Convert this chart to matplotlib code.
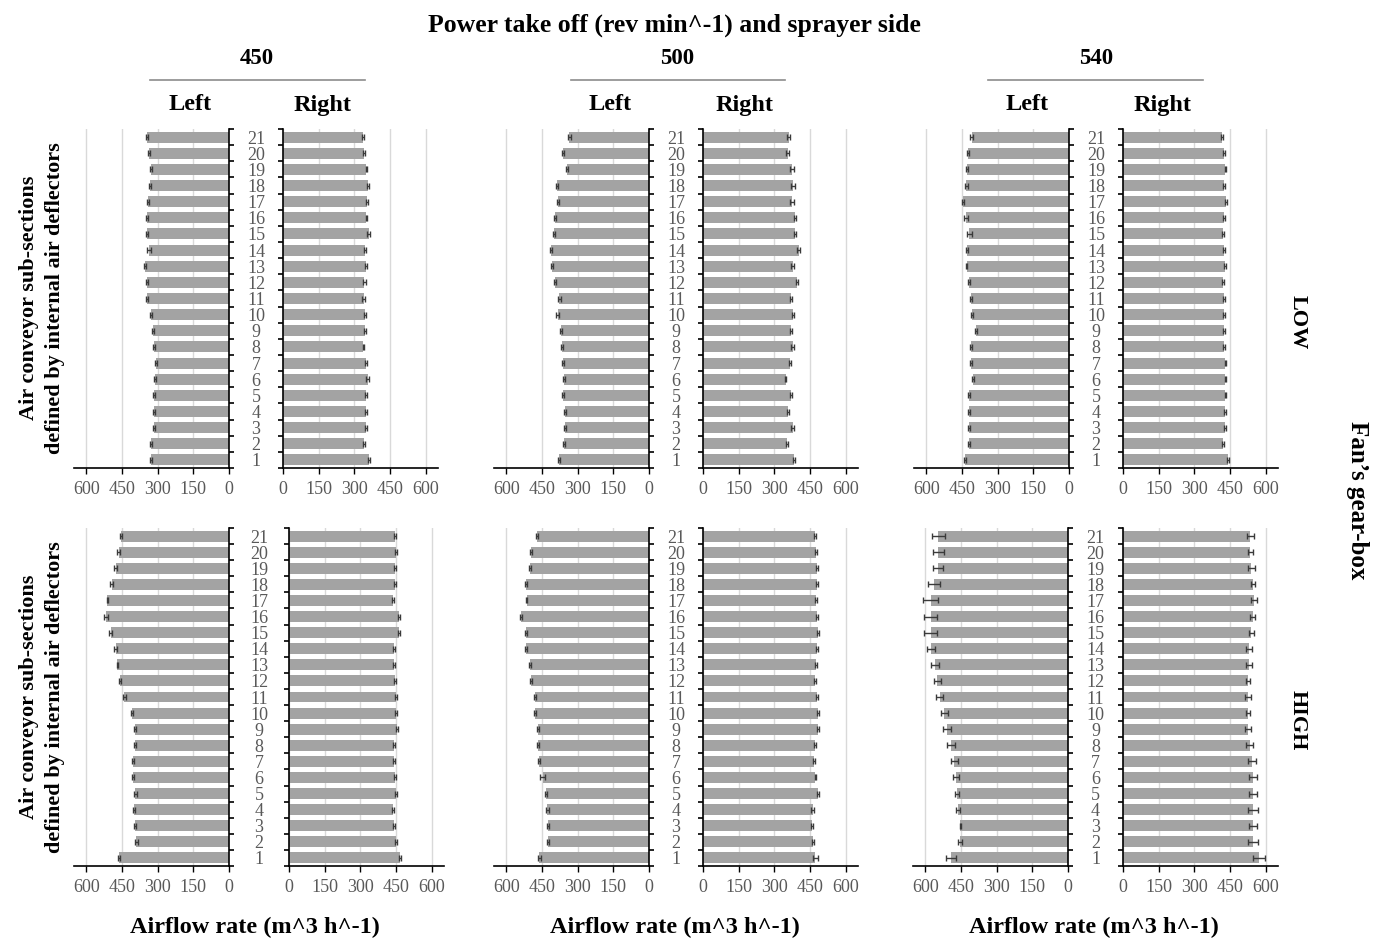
import numpy as np
import matplotlib.pyplot as plt
from matplotlib.ticker import FixedLocator

plt.rcParams['font.family'] = ['Liberation Serif', 'DejaVu Serif']

sections = list(range(1, 22))
pto_speeds = ['450', '500', '540']
gearbox = ['LOW', 'HIGH']
xticks = [0, 150, 300, 450, 600]

# airflow rate (m^3 h^-1) per sub-section 1..21, mean and error
low_450_left = [327, 327, 316, 316, 317, 313, 308, 317, 318, 328, 344, 346, 352, 335, 344, 345, 339, 332, 328, 335, 344]
low_450_left_err = [4, 4, 4, 4, 4, 4, 4, 4, 4, 4, 5, 5, 5, 8, 4, 4, 4, 4, 4, 4, 4]
low_450_right = [360, 342, 348, 348, 348, 356, 348, 338, 345, 345, 339, 342, 349, 346, 360, 351, 353, 356, 351, 342, 337]
low_450_right_err = [4, 4, 4, 4, 4, 5, 4, 3, 4, 4, 6, 6, 4, 4, 5, 4, 4, 4, 4, 4, 4]

low_500_left = [380, 358, 352, 352, 363, 356, 360, 367, 369, 384, 377, 397, 407, 414, 400, 394, 384, 386, 346, 360, 335]
low_500_left_err = [4, 4, 4, 5, 4, 4, 4, 4, 4, 6, 5, 4, 4, 4, 4, 4, 4, 4, 4, 4, 6]
low_500_right = [383, 353, 377, 356, 370, 348, 367, 377, 370, 377, 370, 395, 377, 402, 386, 388, 374, 379, 374, 356, 360]
low_500_right_err = [4, 6, 6, 4, 4, 3, 5, 5, 4, 4, 4, 4, 5, 6, 4, 4, 7, 7, 7, 7, 7]

low_540_left = [439, 421, 422, 422, 422, 404, 412, 411, 391, 408, 411, 422, 431, 428, 419, 433, 445, 432, 428, 424, 410]
low_540_left_err = [4, 4, 4, 4, 4, 4, 4, 4, 4, 4, 4, 4, 4, 4, 9, 7, 4, 6, 4, 4, 6]
low_540_right = [440, 421, 428, 428, 431, 431, 431, 424, 424, 424, 424, 421, 428, 426, 421, 424, 432, 426, 431, 424, 417]
low_540_right_err = [4, 4, 4, 4, 4, 4, 4, 4, 4, 4, 4, 4, 4, 4, 5, 4, 4, 4, 4, 4, 5]

high_450_left = [464, 389, 397, 400, 394, 404, 404, 394, 397, 409, 440, 457, 469, 476, 497, 516, 511, 493, 477, 464, 454]
high_450_left_err = [4, 5, 4, 4, 6, 4, 6, 4, 4, 4, 5, 4, 4, 6, 7, 8, 4, 7, 7, 5, 5]
high_450_right = [466, 451, 443, 439, 450, 446, 443, 442, 454, 449, 451, 444, 443, 442, 461, 463, 437, 444, 444, 451, 444]
high_450_right_err = [4, 4, 4, 4, 4, 4, 4, 4, 4, 4, 4, 4, 4, 4, 4, 4, 4, 4, 4, 4, 4]

high_500_left = [461, 426, 426, 428, 433, 447, 461, 466, 468, 478, 481, 495, 501, 518, 518, 537, 515, 518, 501, 498, 470]
high_500_left_err = [5, 4, 4, 7, 4, 10, 4, 4, 4, 4, 4, 5, 4, 4, 5, 5, 4, 5, 4, 4, 4]
high_500_right = [473, 463, 459, 461, 482, 473, 468, 471, 482, 482, 480, 470, 477, 480, 482, 480, 477, 480, 480, 477, 470]
high_500_right_err = [10, 4, 5, 6, 4, 4, 5, 4, 4, 4, 4, 4, 4, 4, 4, 4, 4, 4, 4, 4, 4]

high_540_left = [492, 454, 453, 464, 467, 471, 478, 492, 509, 520, 539, 549, 560, 577, 577, 577, 578, 563, 547, 545, 545]
high_540_left_err = [22, 10, 3, 9, 9, 12, 14, 17, 16, 14, 15, 15, 17, 18, 27, 28, 30, 24, 22, 24, 26]
high_540_right = [571, 547, 547, 547, 547, 547, 543, 532, 525, 526, 526, 526, 529, 529, 540, 546, 550, 547, 540, 536, 536]
high_540_right_err = [25, 20, 18, 20, 18, 18, 18, 14, 14, 10, 12, 10, 12, 12, 12, 10, 12, 10, 13, 12, 14]

panels = {
    ('LOW', '450'): (low_450_left, low_450_left_err, low_450_right, low_450_right_err),
    ('LOW', '500'): (low_500_left, low_500_left_err, low_500_right, low_500_right_err),
    ('LOW', '540'): (low_540_left, low_540_left_err, low_540_right, low_540_right_err),
    ('HIGH', '450'): (high_450_left, high_450_left_err, high_450_right, high_450_right_err),
    ('HIGH', '500'): (high_500_left, high_500_left_err, high_500_right, high_500_right_err),
    ('HIGH', '540'): (high_540_left, high_540_left_err, high_540_right, high_540_right_err),
}

W, H = 1386, 941
fig = plt.figure(figsize=(W / 100, H / 100), dpi=100)

# layout in pixels
row_top = [129, 528]
row_bot = [468, 866]
left_spine = [[229, 649, 1069], [229, 649, 1068]]
right_zero = [[283, 703, 1123], [289, 703, 1123]]
px_unit = 0.2378
xmax = 650
pt = 100 / 72

bar_color = '#a3a3a3'
grid_color = '#d9d9d9'
tick_color = '#595959'


def style_axis(ax, side):
    ax.set_xlim(0, xmax)
    if side == 'left':
        ax.invert_xaxis()
    ax.set_ylim(0.5, 21.5)
    for s in ['top', 'left', 'right']:
        ax.spines[s].set_visible(False)
    ax.spines['bottom'].set_linewidth(1.2)
    spine = 'right' if side == 'left' else 'left'
    ax.spines[spine].set_visible(True)
    ax.spines[spine].set_linewidth(1.2)
    ax.set_xticks(xticks)
    ax.set_xticklabels([str(t) for t in xticks])
    ax.tick_params(axis='x', direction='out', length=4, width=1, color='black',
                   labelcolor=tick_color, labelsize=13, pad=5)
    ax.yaxis.set_major_locator(FixedLocator(sections))
    ax.yaxis.set_minor_locator(FixedLocator(np.arange(0.5, 22, 1)))
    ax.tick_params(axis='y', which='minor', direction='out', length=3.5, width=1.2)
    ax.tick_params(axis='y', which='major', length=0)
    ax.grid(axis='x', color=grid_color, linewidth=1)
    ax.set_axisbelow(True)


def draw_bars(ax, vals, errs):
    ax.barh(sections, vals, height=0.68, color=bar_color, zorder=2)
    ax.errorbar(vals, sections, xerr=errs, fmt='none', ecolor='#3a3a3a',
                elinewidth=1, capsize=2, capthick=1, zorder=3)


for r, gb in enumerate(gearbox):
    bottom = 1 - row_bot[r] / H
    height = (row_bot[r] - row_top[r]) / H
    for c, speed in enumerate(pto_speeds):
        lv, le, rv, re_ = panels[(gb, speed)]
        width = xmax * px_unit / W

        axl = fig.add_axes([(left_spine[r][c] - xmax * px_unit) / W, bottom, width, height])
        draw_bars(axl, lv, le)
        style_axis(axl, 'left')
        axl.yaxis.set_ticks_position('right')
        half_gap = (right_zero[r][c] - left_spine[r][c]) / 2
        axl.set_yticklabels([str(s) for s in sections])
        axl.tick_params(axis='y', which='major', labelright=True, labelleft=False,
                        labelcolor=tick_color, labelsize=13, pad=half_gap / pt)
        for lab in axl.get_yticklabels():
            lab.set_horizontalalignment('center')

        axr = fig.add_axes([right_zero[r][c] / W, bottom, width, height])
        draw_bars(axr, rv, re_)
        style_axis(axr, 'right')
        axr.yaxis.set_ticks_position('left')
        axr.tick_params(axis='y', which='major', labelleft=False)


def ftext(x, y, s, **kw):
    fig.text(x / W, 1 - y / H, s, ha='center', va='center', fontweight='bold', **kw)


ftext(674, 25, 'Power take off (rev min^-1) and sprayer side', fontsize=18.5)
group_centers = [257, 677, 1096]
group_lines = [(150, 365), (571, 785), (988, 1203)]
side_pos = [(190, 323), (610, 745), (1027, 1163)]
for c, speed in enumerate(pto_speeds):
    ftext(group_centers[c], 59, speed, fontsize=16.5)
    x0, x1 = group_lines[c]
    fig.add_artist(plt.Line2D([x0 / W, x1 / W], [1 - 80 / H, 1 - 80 / H],
                              color='#8c8c8c', linewidth=1.2))
    ftext(side_pos[c][0], 105, 'Left', fontsize=17.5)
    ftext(side_pos[c][1], 105, 'Right', fontsize=17.5)
    ftext(group_centers[c] - 2, 927, 'Airflow rate (m^3 h^-1)', fontsize=17.5)

for y in [298, 697]:
    ftext(42, y, 'Air conveyor sub-sections\ndefined by internal air deflectors',
          fontsize=16, rotation=90, linespacing=1.45)

ftext(1298, 322, 'LOW', fontsize=16, rotation=270)
ftext(1298, 720, 'HIGH', fontsize=16, rotation=270)
ftext(1357, 500, 'Fan\u2019s gear-box', fontsize=18, rotation=270)

fig.savefig('out.png', dpi=100)
